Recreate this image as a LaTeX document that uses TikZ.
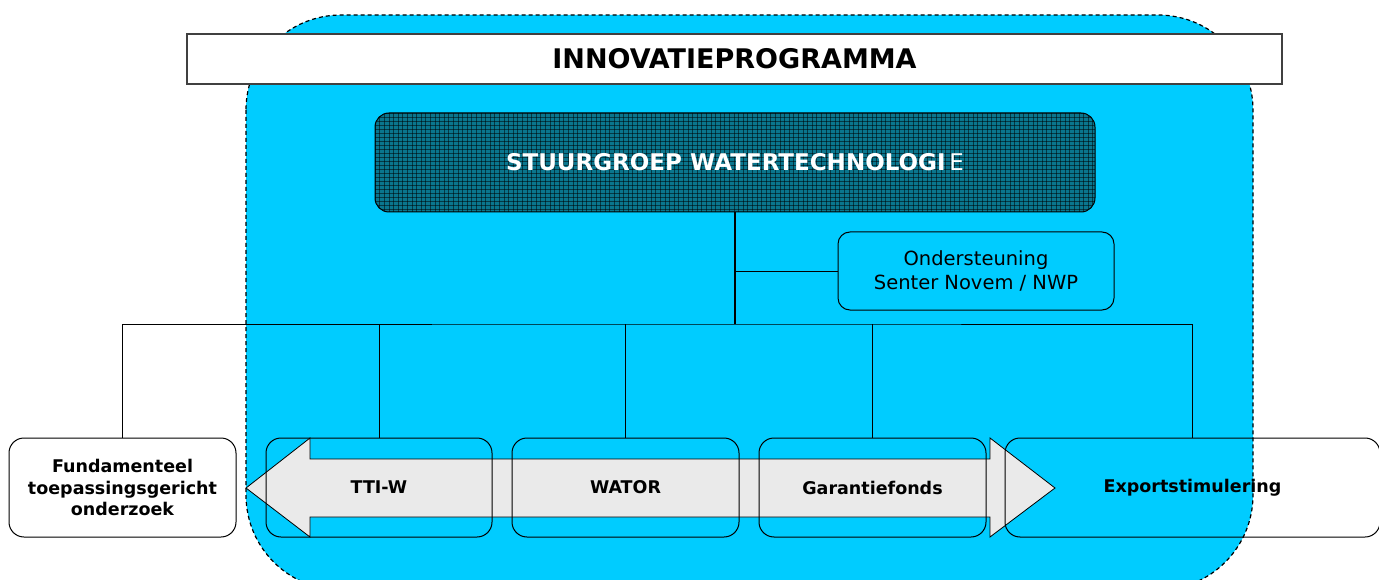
\documentclass[tikz,border=0pt]{standalone}
\usepackage{fontspec}
\setmainfont{DejaVu Sans}
\usepackage{tikz}
\usetikzlibrary{calc, positioning}

\definecolor{progblue}{RGB}{0,204,255}
\definecolor{steerteal}{RGB}{10,118,142}
\definecolor{bandgray}{RGB}{234,234,234}
\definecolor{framegray}{RGB}{64,64,64}

\begin{document}
\begin{tikzpicture}[x=1pt, y=-1pt,
    box/.style={draw, line width=1pt, rounded corners=15pt, inner sep=0pt, outer sep=0pt,
        minimum height=99pt, align=center, font=\fontsize{17.5}{21.5}\selectfont\bfseries},
    gridline/.style={black, line width=0.6pt, opacity=0.5}]
    \useasboundingbox (0,0) rectangle (1379,580);

    % programme area
    \draw[fill=progblue, line width=1.2pt, dash pattern=on 4pt off 3pt, rounded corners=95pt]
        (246,15) rectangle (1253,590);

    \node[draw=framegray, fill=white, line width=1.2pt, minimum width=1095pt, minimum height=50pt,
        inner sep=0pt, font=\fontsize{27}{30}\selectfont\bfseries] (prog) at (734.5,59) {INNOVATIEPROGRAMMA};

    \node[draw, fill=steerteal, line width=1pt, rounded corners=14pt, minimum width=720pt, minimum height=99pt,
        inner sep=0pt, outer sep=0pt, text=white, font=\fontsize{23}{26}\selectfont,
        path picture={
            \foreach \gx in {0,4.6,...,724}
                \draw[gridline] ([xshift=\gx pt]path picture bounding box.north west)
                    -- ([xshift=\gx pt]path picture bounding box.south west);
            \foreach \gy in {0,4,...,100}
                \draw[gridline] ([yshift=-\gy pt]path picture bounding box.north west)
                    -- ([yshift=-\gy pt]path picture bounding box.north east);
        }] (stuur) at (735,162.5) {{\bfseries STUURGROEP WATERTECHNOLOGI}\,E};

    \node[draw, line width=1pt, rounded corners=12pt, minimum width=276pt, minimum height=78pt,
        inner sep=0pt, outer sep=0pt, align=center, font=\fontsize{19.5}{24}\selectfont]
        (ond) at (976,271) {Ondersteuning\\Senter Novem / NWP};

    % band arrow
    \draw[fill=bandgray, line width=0.8pt]
        (246,488) -- (310,438) -- (310,459) -- (990,459) -- (990,438) -- (1055,488)
        -- (990,537) -- (990,517) -- (310,517) -- (310,537) -- cycle;

    \node[box, fill=white, minimum width=227pt] (fund) at (122.5,487.5) {Fundamenteel\\toepassingsgericht\\onderzoek};
    \node[box, minimum width=226pt] (tti) at (379,487.5) {TTI-W};
    \node[box, minimum width=227pt] (wator) at (625.5,487.5) {WATOR};
    \node[box, minimum width=227pt] (garant) at (872.5,487.5) {Garantiefonds};
    \node[box, minimum width=375pt] (export) at (1192.5,487.5) {Exportstimulering};

    % connectors
    \coordinate (bus) at (735,324);
    \draw[line width=2pt] (stuur.south) -- (bus);
    \draw[line width=1pt] (stuur.south |- ond.west) -- (ond.west);
    \draw[line width=1pt] (fund.north) |- (bus) -| (export.north);
    \foreach \b in {tti,wator,garant}
        \draw[line width=1pt] (\b.north) -- (\b.north |- bus);
\end{tikzpicture}
\end{document}
